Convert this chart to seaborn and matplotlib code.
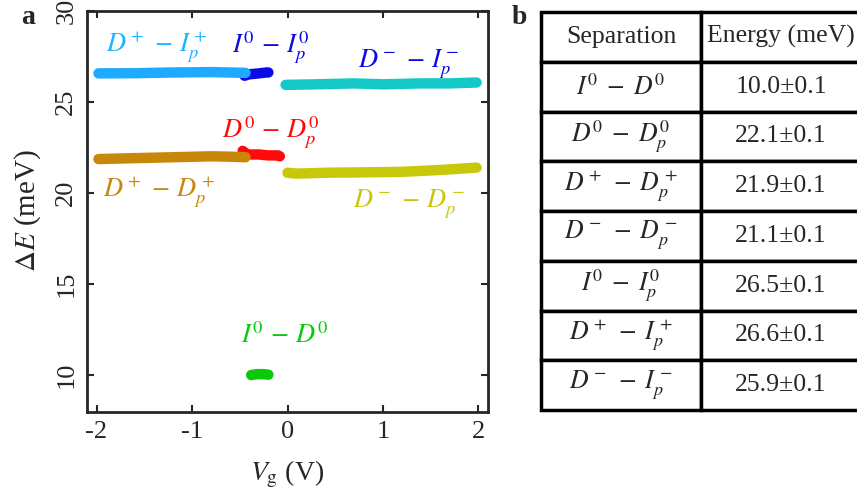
import matplotlib
matplotlib.use("Agg")
import matplotlib.pyplot as plt
import seaborn as sns

# ---- data ----
# panel a: energy separations vs gate voltage
blue_light_x = [-1.98, -1.6, -1.2, -0.8, -0.6, -0.44]
blue_light_y = [26.55, 26.56, 26.6, 26.62, 26.6, 26.58]
blue_x = [-0.45, -0.4, -0.3, -0.22, -0.2]
blue_y = [26.42, 26.5, 26.55, 26.6, 26.6]
cyan_x = [-0.02, 0.3, 0.7, 1.0, 1.4, 1.7, 1.98]
cyan_y = [25.92, 25.95, 26.0, 25.95, 26.0, 26.0, 26.05]
red_x = [-0.47, -0.42, -0.3, -0.2, -0.1, -0.08]
red_y = [22.3, 22.1, 22.1, 22.05, 22.05, 22.0]
brown_x = [-1.98, -1.6, -1.2, -0.8, -0.6, -0.44]
brown_y = [21.85, 21.9, 21.95, 22.0, 21.98, 21.95]
yellow_x = [0.0, 0.1, 0.4, 0.8, 1.2, 1.6, 1.98]
yellow_y = [21.1, 21.05, 21.1, 21.12, 21.15, 21.25, 21.38]
green_x = [-0.38, -0.32, -0.26, -0.2]
green_y = [10.0, 10.05, 10.05, 10.02]

# panel b: table
table_header = ["Separation", "Energy (meV)"]
separations = [r"$I^0\;-\;D^0$", r"$D^0\;-\;D_p^0$", r"$D^+\;-\;D_p^+$",
               r"$D^-\;-\;D_p^-$", r"$I^0\;-\;I_p^0$", r"$D^+\;-\;I_p^+$",
               r"$D^-\;-\;I_p^-$"]
energies = ["10.0", "22.1", "21.9", "21.1", "26.5", "26.6", "25.9"]
error = "0.1"

sns.set_style("ticks")
plt.rcParams["font.family"] = ["Liberation Serif", "DejaVu Serif"]
plt.rcParams["mathtext.fontset"] = "stix"

fig = plt.figure(figsize=(8.57, 4.95), dpi=100)
ax = fig.add_axes([87 / 857, 1 - 411.5 / 495, 401 / 857, 401 / 495])

# draw order: lower curves first so the overlaps look like the reference
series = [
    (blue_x, blue_y, "#0a0ae6"),
    (blue_light_x, blue_light_y, "#1eaaff"),
    (cyan_x, cyan_y, "#14c8c8"),
    (red_x, red_y, "#ff0a0a"),
    (brown_x, brown_y, "#c8860a"),
    (yellow_x, yellow_y, "#c8c80a"),
    (green_x, green_y, "#0ac80a"),
]
for xs, ys, col in series:
    sns.lineplot(x=xs, y=ys, color=col, linewidth=7.5, sort=False,
                 solid_capstyle="round", ax=ax)

# curve labels (positioned at their baselines)
labels = [
    (-1.37, 27.72, r"$D^+\,-\,I_p^+$", "#1eb4ff"),
    (-0.18, 27.67, r"$I^0\,-\,I_p^0$", "#0a0ae6"),
    (1.27, 26.84, r"$D^-\,-\,I_p^-$", "#0a0ae6"),
    (-0.18, 23.0, r"$D^0\,-\,D_p^0$", "#ff0a0a"),
    (-1.35, 19.77, r"$D^+\,-\,D_p^+$", "#c8860a"),
    (1.27, 19.2, r"$D^-\,-\,D_p^-$", "#c8c80a"),
    (-0.03, 11.76, r"$I^0\,-\,D^0$", "#0ac80a"),
]
for x, y, txt, col in labels:
    ax.text(x, y, txt, color=col, fontsize=19, ha="center", va="baseline")

ax.set_xlim(-2.1, 2.1)
ax.set_ylim(8, 30)
ax.set_xticks([-2, -1, 0, 1, 2])
ax.set_xticklabels(["-2", "-1", "0", "1", "2"])
ax.set_yticks([10, 15, 20, 25, 30])
ax.tick_params(direction="in", length=5, width=1.5, labelsize=19,
               top=True, right=True, pad=7)
for lab in ax.get_yticklabels():
    lab.set_rotation(90)
    lab.set_va("center")
for sp in ax.spines.values():
    sp.set_linewidth(2)
ax.set_xlabel(r"$V_{\rm g}$ (V)", fontsize=20, labelpad=11)
ax.set_ylabel(r"$\Delta E$ (meV)", fontsize=21, labelpad=9)

fig.text(28 / 857, 1 - 17 / 495, "a", fontsize=20, fontweight="bold",
         ha="center", va="center")
fig.text(519 / 857, 1 - 17 / 495, "b", fontsize=20, fontweight="bold",
         ha="center", va="center")

# table
tax = fig.add_axes([541 / 857, 1 - 410 / 495, 320 / 857, 398 / 495])
tax.axis("off")
cell_text = [[s, f"{e}\u00b1{error}"] for s, e in zip(separations, energies)]
tbl = tax.table(cellText=cell_text, colLabels=table_header,
                cellLoc="center", bbox=[0, 0, 1, 1])
tbl.auto_set_font_size(False)
for (r, c), cell in tbl.get_celld().items():
    cell.set_linewidth(2.5)
    cell.set_edgecolor("black")
    cell.get_text().set_fontsize(18.5)

fig.savefig("out.png", dpi=100)
